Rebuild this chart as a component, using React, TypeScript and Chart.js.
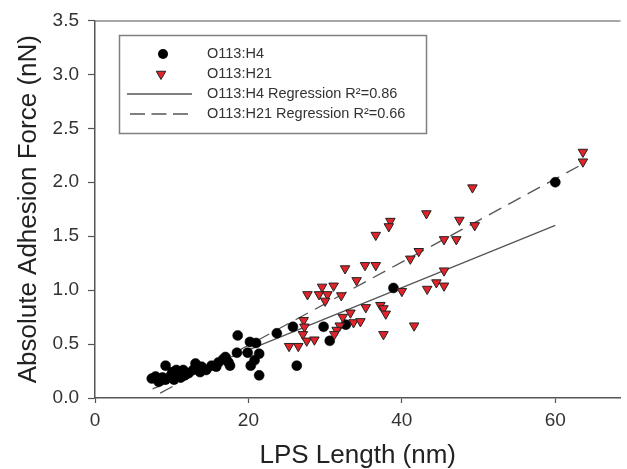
import React, { useEffect, useRef } from "react";
import { Chart, registerables } from "chart.js";

Chart.register(...registerables);

// ---- Data ----
const h4X = [7.4, 7.9, 8.3, 8.8, 9.2, 9.2, 9.9, 10.1, 10.3, 10.6, 11.2, 11.5, 11.7, 12.2, 12.8, 13.1, 13.7, 13.9, 14.5, 15.2, 15.8, 16.1, 16.7, 17.0, 17.4, 17.6, 18.5, 18.6, 19.9, 20.2, 20.3, 20.8, 21.0, 21.4, 21.4, 23.7, 25.8, 26.3, 29.8, 30.6, 32.7, 38.9, 60.0];
const h4Y = [0.18, 0.20, 0.15, 0.19, 0.17, 0.30, 0.21, 0.24, 0.17, 0.26, 0.19, 0.26, 0.21, 0.23, 0.26, 0.32, 0.24, 0.29, 0.26, 0.30, 0.29, 0.33, 0.36, 0.38, 0.33, 0.30, 0.42, 0.58, 0.42, 0.52, 0.30, 0.35, 0.51, 0.41, 0.21, 0.60, 0.66, 0.30, 0.66, 0.53, 0.68, 1.02, 2.00];

const h21X = [49.2, 43.2, 38.5, 38.3, 36.6, 47.5, 49.5, 45.5, 47.1, 42.2, 41.1, 32.6, 35.2, 36.6, 34.1, 45.5, 27.7, 29.6, 31.1, 29.2, 30.3, 30.0, 32.1, 40.0, 43.3, 44.5, 45.5, 35.3, 37.2, 37.6, 37.9, 33.3, 32.3, 33.7, 34.6, 27.2, 27.3, 31.9, 31.5, 31.2, 27.1, 27.6, 28.6, 25.3, 26.5, 37.6, 41.6, 63.6, 63.6];
const h21Y = [1.95, 1.71, 1.64, 1.59, 1.51, 1.65, 1.60, 1.47, 1.47, 1.36, 1.29, 1.20, 1.23, 1.23, 1.09, 1.18, 0.96, 1.03, 1.04, 0.96, 0.96, 0.90, 0.95, 0.99, 1.01, 1.07, 1.04, 0.84, 0.86, 0.83, 0.78, 0.79, 0.75, 0.70, 0.71, 0.72, 0.66, 0.67, 0.63, 0.59, 0.59, 0.53, 0.54, 0.48, 0.48, 0.59, 0.67, 2.28, 2.19];

const h4RegX = [7.5, 60.0];
const h4RegY = [0.085, 1.6];
const h21RegX = [8.5, 63.6];
const h21RegY = [0.045, 2.17];

const xTickValues = [0, 20, 40, 60];
const yTickValues = [0, 0.5, 1.0, 1.5, 2.0, 2.5, 3.0, 3.5];

const legendLabels = [
  "O113:H4",
  "O113:H21",
  "O113:H4 Regression R\u00B2=0.86",
  "O113:H21 Regression R\u00B2=0.66",
];

const xTitle = "LPS Length (nm)";
const yTitle = "Absolute Adhesion Force (nN)";

const FONT = "'Liberation Sans', Arial, sans-serif";
const RED = "#e3232a";
const LINE = "#555555";

const toPts = (xs: number[], ys: number[]) => xs.map((x, i) => ({ x, y: ys[i] }));

const frameAndLegend = {
  id: "frameAndLegend",
  afterDraw(chart: any) {
    const { ctx, chartArea } = chart;
    ctx.save();
    // top frame line
    ctx.strokeStyle = "#8a8a8a";
    ctx.lineWidth = 1.5;
    ctx.beginPath();
    ctx.moveTo(chartArea.left, chartArea.top + 0.5);
    ctx.lineTo(chartArea.right, chartArea.top + 0.5);
    ctx.stroke();

    // legend box
    ctx.strokeStyle = "#808080";
    ctx.lineWidth = 1.5;
    ctx.strokeRect(119.5, 35.5, 307, 98);

    const rowY = [54, 74, 94, 114];
    // circle
    ctx.fillStyle = "#000";
    ctx.beginPath();
    ctx.arc(163, rowY[0], 5, 0, Math.PI * 2);
    ctx.fill();
    // triangle (down)
    const r = 5.5;
    const cx = 161, cy = rowY[1];
    ctx.fillStyle = RED;
    ctx.strokeStyle = "#222";
    ctx.lineWidth = 1;
    ctx.beginPath();
    ctx.moveTo(cx, cy + r);
    ctx.lineTo(cx - r * Math.sin(Math.PI / 3), cy - r / 2);
    ctx.lineTo(cx + r * Math.sin(Math.PI / 3), cy - r / 2);
    ctx.closePath();
    ctx.fill();
    ctx.stroke();
    // solid line
    ctx.strokeStyle = LINE;
    ctx.lineWidth = 1.3;
    ctx.beginPath();
    ctx.moveTo(127, rowY[2]);
    ctx.lineTo(192, rowY[2]);
    ctx.stroke();
    // dashed line
    ctx.setLineDash([15, 6.5]);
    ctx.beginPath();
    ctx.moveTo(130, rowY[3]);
    ctx.lineTo(188, rowY[3]);
    ctx.stroke();
    ctx.setLineDash([]);

    ctx.fillStyle = "#333";
    ctx.font = `14.5px ${FONT}`;
    ctx.textBaseline = "middle";
    ctx.textAlign = "left";
    legendLabels.forEach((t, i) => ctx.fillText(t, 207, rowY[i]));
    ctx.restore();
  },
};

export default function App() {
  const ref = useRef<HTMLCanvasElement | null>(null);

  useEffect(() => {
    if (!ref.current) return;
    const chart = new Chart(ref.current, {
      type: "scatter",
      data: {
        datasets: [
          {
            label: legendLabels[1],
            data: toPts(h21X, h21Y),
            pointStyle: "triangle",
            rotation: 180,
            pointRadius: 5.5,
            backgroundColor: RED,
            borderColor: "#222",
            borderWidth: 1,
          },
          {
            label: legendLabels[0],
            data: toPts(h4X, h4Y),
            pointStyle: "circle",
            pointRadius: 5,
            backgroundColor: "#000",
            borderColor: "#000",
            borderWidth: 0.5,
          },
          {
            label: legendLabels[2],
            data: toPts(h4RegX, h4RegY),
            showLine: true,
            pointRadius: 0,
            borderColor: LINE,
            borderWidth: 1.3,
          },
          {
            label: legendLabels[3],
            data: toPts(h21RegX, h21RegY),
            showLine: true,
            pointRadius: 0,
            borderColor: LINE,
            borderWidth: 1.3,
            borderDash: [14, 8],
          },
        ],
      },
      options: {
        animation: false,
        responsive: false,
        devicePixelRatio: 1,
        layout: { padding: { top: 19, right: 0, left: 0, bottom: 0 } },
        plugins: { legend: { display: false }, tooltip: { enabled: false } },
        scales: {
          x: {
            type: "linear",
            min: 0,
            max: 68.5,
            afterBuildTicks: (s: any) => {
              s.ticks = xTickValues.map((v) => ({ value: v }));
            },
            afterFit: (s: any) => {
              s.height = 71;
            },
            ticks: {
              color: "#333",
              font: { family: FONT, size: 19 },
              padding: 6,
              maxRotation: 0,
              callback: (v: any) => String(v),
            },
            grid: { drawOnChartArea: false, drawTicks: true, tickLength: 5, tickColor: "#555", tickWidth: 1.2 },
            border: { display: true, color: "#555", width: 1.5 },
            title: {
              display: true,
              text: xTitle,
              color: "#222",
              font: { family: FONT, size: 26, lineHeight: 1.0 },
              padding: { top: 0, bottom: 0 },
            },
          },
          y: {
            type: "linear",
            min: 0,
            max: 3.5,
            afterBuildTicks: (s: any) => {
              s.ticks = yTickValues.map((v) => ({ value: v }));
            },
            afterFit: (s: any) => {
              s.width = 95;
            },
            ticks: {
              color: "#333",
              font: { family: FONT, size: 19 },
              padding: 9,
              callback: (v: any) => Number(v).toFixed(1),
            },
            grid: { drawOnChartArea: false, drawTicks: true, tickLength: 7, tickColor: "#555", tickWidth: 1.2 },
            border: { display: true, color: "#555", width: 1.5 },
            title: {
              display: true,
              text: yTitle,
              color: "#222",
              font: { family: FONT, size: 26, lineHeight: 1.0 },
              padding: { top: 16, bottom: 0 },
            },
          },
        },
      },
      plugins: [frameAndLegend],
    });
    return () => chart.destroy();
  }, []);

  return (
    <div style={{ position: "fixed", left: 0, top: 0, width: 627, height: 469, background: "#fff" }}>
      <canvas ref={ref} width={627} height={469} />
    </div>
  );
}
